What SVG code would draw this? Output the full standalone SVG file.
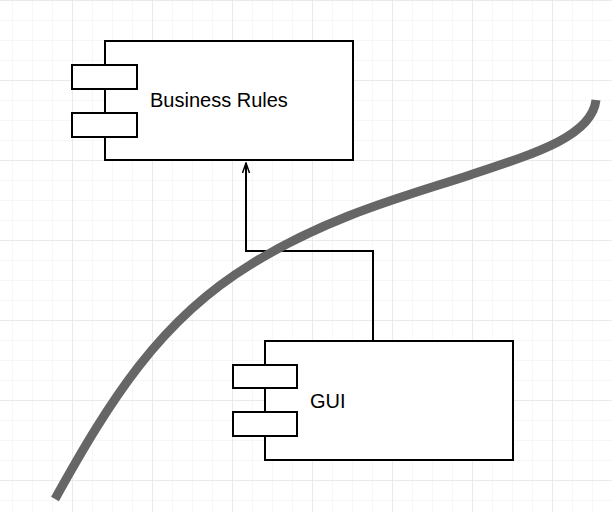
<svg xmlns="http://www.w3.org/2000/svg" width="612" height="512" viewBox="0 0 612 512">
<defs>
<pattern id="minor" x="12" y="0" width="20" height="20" patternUnits="userSpaceOnUse"><path d="M0 0V20M0 0H20" fill="none" stroke="#efefef" stroke-width="1"/></pattern>
<pattern id="major" x="-8" y="0" width="80" height="80" patternUnits="userSpaceOnUse"><path d="M0 0V80M0 0H80" fill="none" stroke="#dedede" stroke-width="1"/></pattern>
<marker id="arr" markerWidth="12" markerHeight="10" refX="11" refY="5" orient="auto" markerUnits="userSpaceOnUse" viewBox="0 0 12 10"><path d="M1 1.5L11 5L1 8.5" fill="none" stroke="#000" stroke-width="1.5"/></marker>
</defs>
<style>
.b{fill:#fff;stroke:#000;stroke-width:2}
.t{font-family:"Liberation Sans",Arial,sans-serif;font-size:20px;fill:#000}
</style>
<rect width="612" height="512" fill="#fff"/>
<rect width="612" height="512" fill="url(#minor)"/>
<rect width="612" height="512" fill="url(#major)"/>
<g id="connectors">
<path d="M373 341V251H246V163" fill="none" stroke="#000" stroke-width="2" marker-end="url(#arr)"/>
</g>
<g id="business-rules">
<rect class="b" x="105" y="41" width="248" height="119"/>
<rect class="b" x="72" y="65" width="65" height="24"/>
<rect class="b" x="72" y="113" width="65" height="24"/>
<text class="t" x="150" y="107">Business Rules</text>
</g>
<g id="gui">
<rect class="b" x="265" y="341" width="248" height="119"/>
<rect class="b" x="233" y="365" width="64" height="23"/>
<rect class="b" x="233" y="412" width="64" height="24"/>
<text class="t" x="310" y="408">GUI</text>
</g>
<path d="M55 499C110 400 160 320 250 265C330 215 410 195 470 175C540 152 592 135 596 100" fill="none" stroke="#666" stroke-width="9"/>
</svg>
